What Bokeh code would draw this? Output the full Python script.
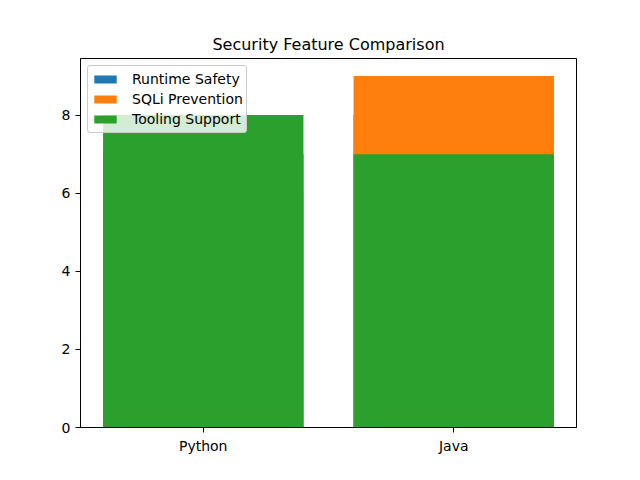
from bokeh.plotting import figure
from bokeh.models import Range1d, FixedTicker, Legend, LegendItem
from bokeh.embed import file_html
from bokeh.resources import INLINE

languages = ["Python", "Java"]
runtime_safety = [7, 8]
sqli_prevention = [6, 9]
tooling_support = [8, 7]
series_names = ["Runtime Safety", "SQLi Prevention", "Tooling Support"]
colors = ["#1f77b4", "#ff7f0e", "#2ca02c"]

xs = list(range(len(languages)))

p = figure(width=640, height=480, output_backend="svg", toolbar_location=None,
           x_range=Range1d(-0.49, 1.49), y_range=Range1d(0, 9.45),
           min_border_left=80, min_border_right=64, min_border_top=58, min_border_bottom=53)
p.title.text = "Security Feature Comparison"
p.title.align = "center"
p.title.text_font = "DejaVu Sans"
p.title.text_font_size = "16px"
p.title.text_font_style = "normal"
p.title.text_color = "black"
p.title.standoff = 9

items = []
for vals, name, c in zip([runtime_safety, sqli_prevention, tooling_support], series_names, colors):
    r = p.vbar(x=xs, top=vals, bottom=0, width=0.8, fill_color=c, line_color=None)
    items.append(LegendItem(label=name, renderers=[r]))

legend = Legend(items=items, location="top_left")
legend.label_text_font = "DejaVu Sans"
legend.label_text_font_size = "14px"
legend.label_text_color = "black"
legend.glyph_width = 28
legend.glyph_height = 10
legend.label_height = 20
legend.spacing = 0
legend.padding = 3
legend.margin = 7
legend.label_standoff = 13
legend.border_line_color = "#cccccc"
legend.border_line_alpha = 1.0
legend.border_radius = 3
legend.background_fill_alpha = 0.8
p.add_layout(legend)

p.xgrid.visible = False
p.ygrid.visible = False
p.outline_line_color = "black"
p.outline_line_width = 1

p.xaxis.ticker = FixedTicker(ticks=xs)
p.xaxis.major_label_overrides = {i: l for i, l in enumerate(languages)}
p.yaxis.ticker = FixedTicker(ticks=[0, 2, 4, 6, 8])
for ax in (p.xaxis, p.yaxis):
    ax.minor_tick_line_color = None
    ax.major_tick_in = 0
    ax.major_tick_out = 5
    ax.major_label_text_font = "DejaVu Sans"
    ax.major_label_text_font_size = "14px"
    ax.major_label_text_color = "black"
    ax.axis_line_color = "black"
    ax.major_tick_line_color = "black"

open("out.html", "w").write(file_html(p, INLINE))
